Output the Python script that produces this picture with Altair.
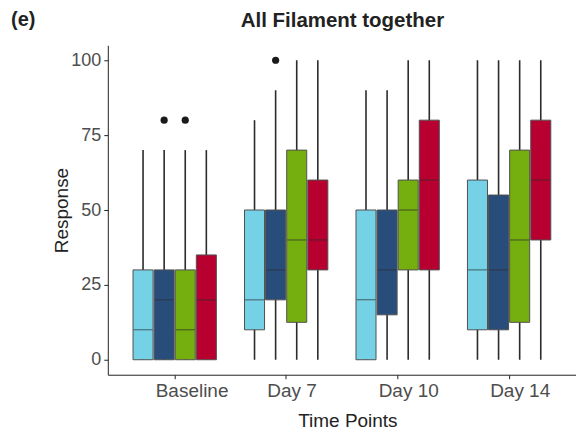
import altair as alt
import pandas as pd

times = ["Baseline", "Day 7", "Day 10", "Day 14"]
groups = ["G1", "G2", "G3", "G4"]
colors = ["#75D1E5", "#294D7B", "#75AE0F", "#B7002F"]

# per time point, per group (G1..G4)
lower = [0, 0, 0, 0,   0, 0, 0, 0,   0, 0, 0, 0,   0, 0, 0, 0]
q1 =    [0, 0, 0, 0,   10, 20, 12.5, 30,   0, 15, 30, 30,   10, 10, 12.5, 40]
med =   [10, 20, 10, 20,   20, 30, 40, 40,   20, 30, 50, 60,   30, 30, 40, 60]
q3 =    [30, 30, 30, 35,   50, 50, 70, 60,   50, 50, 60, 80,   60, 55, 70, 80]
upper = [70, 70, 70, 70,   80, 90, 100, 100,   90, 90, 100, 100,   100, 100, 100, 100]

out_time = ["Baseline", "Baseline", "Day 7"]
out_group = ["G2", "G3", "G2"]
out_value = [80, 80, 100]

title_text = "All Filament together"
panel_label = "(e)"

rows = []
i = 0
for t in times:
    for g in groups:
        rows.append(dict(time=t, group=g, lower=lower[i], q1=q1[i], med=med[i], q3=q3[i], upper=upper[i]))
        i += 1
df = pd.DataFrame(rows)
out_df = pd.DataFrame(dict(time=out_time, group=out_group, value=out_value))

FONT = "Liberation Sans"

xenc = alt.X("time:N", sort=times, title="Time Points",
             scale=alt.Scale(paddingInner=0, paddingOuter=0.1),
             axis=alt.Axis(labelAngle=0, labelFontSize=19, titleFontSize=19,
                           labelAlign="left", labelOffset=-19,
                           labelFont=FONT, titleFont=FONT, titleFontWeight="normal",
                           labelColor="#4D4D4D", titleColor="#222222",
                           domainColor="#222222", tickColor="#222222",
                           labelPadding=3, titlePadding=11, tickSize=4,
                           titleX=240, titleAlign="center"))
xoff = alt.XOffset("group:N", sort=groups,
                   scale=alt.Scale(paddingOuter=0.667, paddingInner=0.05))
yscale = alt.Scale(domain=[-5, 105], nice=False, zero=False)
yaxis = alt.Axis(values=[0, 25, 50, 75, 100], grid=False, labelFontSize=18, titleFontSize=19,
                 labelFont=FONT, titleFont=FONT, titleFontWeight="normal",
                 labelColor="#4D4D4D", titleColor="#222222", domainColor="#222222",
                 tickColor="#222222", tickSize=4, labelPadding=3,
                 titleX=-46, titleY=165, titleAngle=270, titleAlign="center",
                 titleBaseline="middle")
color = alt.Color("group:N", sort=groups, scale=alt.Scale(domain=groups, range=colors), legend=None)

base = alt.Chart(df)

whisk = base.mark_rule(color="#2b2b2b", strokeWidth=1.6).encode(
    x=xenc, xOffset=xoff,
    y=alt.Y("lower:Q", scale=yscale, axis=yaxis, title="Response"),
    y2="upper:Q")

box = base.mark_bar(stroke="#505050", strokeWidth=1).encode(
    x=xenc, xOffset=xoff,
    y=alt.Y("q1:Q", scale=yscale), y2="q3:Q", color=color)

median = base.mark_tick(color="#2b2b2b", thickness=1, size=19, orient="horizontal").encode(
    x=xenc, xOffset=xoff, y=alt.Y("med:Q", scale=yscale))

outl = alt.Chart(out_df).mark_circle(color="#1a1a1a", opacity=1, size=52).encode(
    x=xenc, xOffset=xoff, y=alt.Y("value:Q", scale=yscale))

label = alt.Chart(pd.DataFrame({"t": [panel_label]})).mark_text(
    fontSize=20, fontWeight="bold", font=FONT, color="#222222",
    align="left", baseline="middle").encode(
    text="t:N", x=alt.value(-97), y=alt.value(-25))

title = alt.Chart(pd.DataFrame({"t": [title_text]})).mark_text(
    fontSize=20.5, fontWeight="bold", font=FONT, color="#222222",
    align="center", baseline="middle").encode(
    text="t:N", x=alt.value(235), y=alt.value(-24))

chart = alt.layer(whisk, box, median, outl, label, title).properties(
    width=469, height=330,
    autosize=alt.AutoSizeParams(type="none"),
    padding={"left": 108, "top": 45, "right": 0, "bottom": 56},
).configure(background="white", view=alt.ViewConfig(stroke=None))

chart.save("out.html", embed_options={"renderer": "svg", "actions": False})
